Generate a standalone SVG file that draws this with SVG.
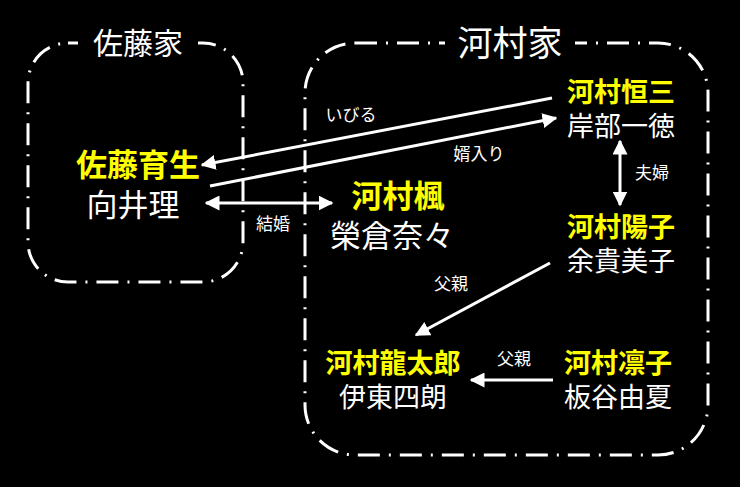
<svg xmlns="http://www.w3.org/2000/svg" width="740" height="487" viewBox="0 0 740 487">
<style>
text{font-family:"Liberation Sans","Noto Sans CJK JP",sans-serif;text-anchor:middle}
.box{fill:none;stroke:#fff;stroke-width:3;stroke-dasharray:22 9 2 9}
.y{fill:#ffff00;font-size:27px;font-weight:bold}
.w{fill:#fff;font-size:27px}
.b{font-size:31px}
.l{fill:#fff;font-size:17px}
.t{fill:#fff}
.c{stroke:#fff;stroke-width:3;fill:none}
</style>
<defs>
<marker id="a" viewBox="0 0 10 10" refX="9" refY="5" markerWidth="5" markerHeight="5" orient="auto-start-reverse"><path d="M0,0L10,5L0,10z" fill="#fff"/></marker>
</defs>
<rect width="740" height="487" fill="#000"/>
<g id="sato">
<rect class="box" x="28" y="43" width="215" height="239" rx="40"/>
<rect x="78" y="22" width="120" height="40" fill="#000"/>
<text class="t" x="138" y="54" font-size="30">佐藤家</text>
</g>
<g id="kawamura">
<rect class="box" x="305" y="43" width="403" height="412" rx="50"/>
<rect x="445" y="20" width="130" height="44" fill="#000"/>
<text class="t" x="510" y="56" font-size="35">河村家</text>
</g>
<g id="n-ikuo"><text class="y b" x="138" y="176">佐藤育生</text><text class="w b" x="133" y="216">向井理</text></g>
<g id="n-kaede"><text class="y b" x="398" y="207">河村楓</text><text class="w b" x="392" y="247">榮倉奈々</text></g>
<g id="n-kozo"><text class="y" x="621" y="102">河村恒三</text><text class="w" x="621" y="136">岸部一徳</text></g>
<g id="n-yoko"><text class="y" x="621" y="237">河村陽子</text><text class="w" x="621" y="271">余貴美子</text></g>
<g id="n-ryutaro"><text class="y" x="393" y="373">河村龍太郎</text><text class="w" x="393" y="407">伊東四朗</text></g>
<g id="n-rinko"><text class="y" x="618" y="373">河村凛子</text><text class="w" x="618" y="407">板谷由夏</text></g>
<g id="connectors">
<line class="c" x1="552" y1="98" x2="202" y2="165" marker-end="url(#a)"/>
<line class="c" x1="210" y1="186" x2="556" y2="118" marker-end="url(#a)"/>
<line class="c" x1="206" y1="203" x2="332" y2="203" marker-start="url(#a)" marker-end="url(#a)"/>
<line class="c" x1="620" y1="141" x2="620" y2="205" marker-start="url(#a)" marker-end="url(#a)"/>
<line class="c" x1="550" y1="263" x2="416" y2="335" marker-end="url(#a)"/>
<line class="c" x1="553" y1="380" x2="471" y2="380" marker-end="url(#a)"/>
<text class="l" x="351" y="121">いびる</text>
<text class="l" x="479" y="160">婿入り</text>
<text class="l" x="273" y="230">結婚</text>
<text class="l" x="652" y="179">夫婦</text>
<text class="l" x="451" y="290">父親</text>
<text class="l" x="514" y="365">父親</text>
</g>
</svg>
